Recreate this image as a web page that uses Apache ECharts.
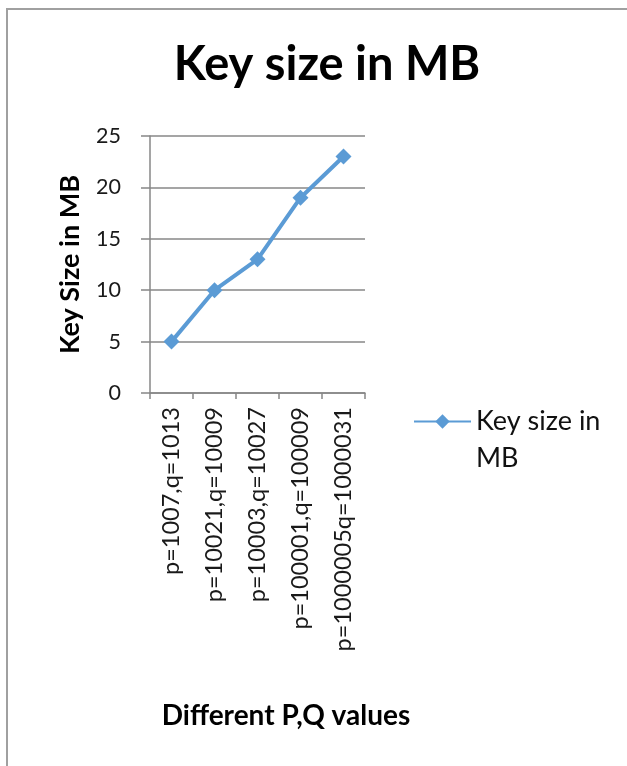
<!DOCTYPE html>
<html>
<head>
<meta charset="utf-8">
<script src="https://cdn.jsdelivr.net/npm/echarts@6/dist/echarts.min.js"></script>
<style>
  html, body { margin: 0; padding: 0; background: #fff; overflow: hidden; }
  #chart { width: 627px; height: 766px; }
</style>
</head>
<body>
<div id="chart"></div>
<script>
// Key size (MB) produced for each pair of primes p, q
const categories = [
  'p=1007,q=1013',
  'p=10021,q=10009',
  'p=10003,q=10027',
  'p=100001,q=100009',
  'p=1000005q=1000031'
];
const keySizeMB = [5, 10, 13, 19, 23];
const yTicks = { min: 0, max: 25, interval: 5 };

const seriesName = 'Key size in MB';
const font = 'Lato, "Liberation Sans", sans-serif';
const axisGray = '#878787';
const lineBlue = '#5B9BD5';

const chart = echarts.init(document.getElementById('chart'), null, { renderer: 'canvas' });

chart.setOption({
  animation: false,
  backgroundColor: '#fff',
  textStyle: { fontFamily: font },
  graphic: [{
    type: 'rect',
    silent: true,
    shape: { x: 7, y: 9, width: 700, height: 800 },
    style: { fill: 'none', stroke: '#a0a0a0', lineWidth: 2 }
  }],
  title: {
    text: 'Key size in MB',
    left: 322,
    top: 36,
    textAlign: 'center',
    textStyle: { fontFamily: font, fontSize: 47, fontWeight: 'bold', color: '#000' }
  },
  legend: {
    left: 413,
    top: 366,
    padding: 0,
    itemWidth: 57,
    itemHeight: 18,
    // leading empty line keeps the marker level with the first text line
    formatter: () => '\nKey size in\nMB',
    textStyle: { fontFamily: font, fontSize: 27, lineHeight: 37, color: '#111' },
    data: [seriesName]
  },
  grid: { left: 150, top: 136, width: 215, height: 257 },
  xAxis: {
    type: 'category',
    data: categories,
    boundaryGap: true,
    name: 'Different P,Q values',
    nameLocation: 'middle',
    nameGap: 309,
    nameTextStyle: { fontFamily: font, fontSize: 28, fontWeight: 'bold', color: '#000', padding: [0, 0, 0, 57] },
    axisLine: { show: true, lineStyle: { color: axisGray, width: 1.5 } },
    axisTick: { show: true, length: 6, lineStyle: { color: axisGray, width: 1.5 } },
    axisLabel: { rotate: 90, margin: 14, fontFamily: font, fontSize: 23.5, color: '#1a1a1a', interval: 0 },
    splitLine: { show: false }
  },
  yAxis: {
    type: 'value',
    min: yTicks.min,
    max: yTicks.max,
    interval: yTicks.interval,
    name: 'Key Size in MB',
    nameLocation: 'middle',
    nameGap: 66,
    nameRotate: 90,
    nameTextStyle: { fontFamily: font, fontSize: 27, fontWeight: 'bold', color: '#000' },
    axisLine: { show: true, lineStyle: { color: axisGray, width: 1.5 } },
    axisTick: { show: true, length: 9, lineStyle: { color: axisGray, width: 1.5 } },
    axisLabel: { margin: 29, fontFamily: font, fontSize: 21.5, color: '#1a1a1a' },
    splitLine: { show: true, lineStyle: { color: axisGray, width: 1.5 } }
  },
  series: [{
    name: seriesName,
    type: 'line',
    data: keySizeMB,
    symbol: 'diamond',
    symbolSize: 16,
    itemStyle: { color: lineBlue },
    lineStyle: { color: lineBlue, width: 4 }
  }]
});
</script>
</body>
</html>
